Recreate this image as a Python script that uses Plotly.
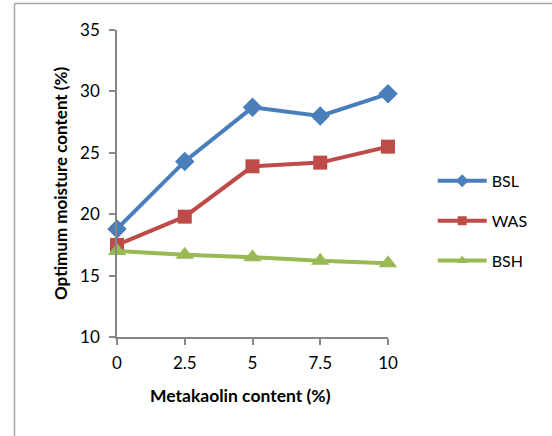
import plotly.graph_objects as go

# Metakaolin content (%) and optimum moisture content (%) for each soil
metakaolin = [0, 2.5, 5, 7.5, 10]
bsl = [18.8, 24.3, 28.7, 28.0, 29.8]
was = [17.5, 19.8, 23.9, 24.2, 25.5]
bsh = [17.0, 16.7, 16.5, 16.2, 16.0]

x_ticks = [0, 2.5, 5, 7.5, 10]
x_tick_text = ["0", "2.5", "5", "7.5", "10"]
y_ticks = [10, 15, 20, 25, 30, 35]

FONT = "Lato, Liberation Sans, sans-serif"
AXIS_GRAY = "#868686"

series = [
    ("BSL", bsl, "#4A7EBB", "diamond", 15, 10),
    ("WAS", was, "#BE4B48", "square", 14, 9),
    ("BSH", bsh, "#98B954", "triangle-up", 16, 10),
]

fig = go.Figure()
for name, values, color, symbol, size, legend_size in series:
    fig.add_trace(go.Scatter(
        x=metakaolin, y=values, name=name, legendgroup=name,
        mode="lines+markers", showlegend=False,
        line=dict(color=color, width=4),
        marker=dict(symbol=symbol, size=size, color=color),
        cliponaxis=False,
    ))
    # legend entry with a smaller marker glyph
    fig.add_trace(go.Scatter(
        x=[None], y=[None], name=name, legendgroup=name,
        mode="lines+markers", showlegend=True,
        line=dict(color=color, width=4),
        marker=dict(symbol=symbol, size=legend_size, color=color),
    ))

fig.update_layout(
    width=552, height=436,
    margin=dict(l=117, r=164, t=30, b=99),
    paper_bgcolor="white", plot_bgcolor="white",
    font=dict(family=FONT, size=17, color="#000000"),
    showlegend=True,
    legend=dict(
        x=1.165, xanchor="left", y=0.378, yanchor="middle",
        font=dict(family=FONT, size=16, color="#000000"),
        tracegroupgap=16, itemwidth=49, bgcolor="rgba(0,0,0,0)",
    ),
    xaxis=dict(
        range=[0, 10], tickvals=x_ticks, ticktext=x_tick_text,
        showgrid=False, zeroline=False, showline=True,
        linecolor=AXIS_GRAY, linewidth=1.5,
        ticks="outside", ticklen=6, tickcolor=AXIS_GRAY, tickwidth=1.5,
        tickfont=dict(family=FONT, size=17), ticklabelstandoff=4,
    ),
    yaxis=dict(
        range=[10, 35], tickvals=y_ticks,
        showgrid=False, zeroline=False, showline=True,
        linecolor=AXIS_GRAY, linewidth=1.5,
        ticks="outside", ticklen=6, tickcolor=AXIS_GRAY, tickwidth=1.5,
        tickfont=dict(family=FONT, size=17), ticklabelstandoff=6,
    ),
    annotations=[
        dict(text="<b>Metakaolin content (%)</b>", xref="paper", yref="paper",
             x=(240 - 117) / 271, y=-(395 - 337) / 307,
             xanchor="center", yanchor="middle", showarrow=False,
             font=dict(family=FONT, size=17.5)),
        dict(text="<b>Optimum moisture content (%)</b>", xref="paper", yref="paper",
             x=-(117 - 60) / 271, y=(337 - 184) / 307, textangle=-90,
             xanchor="center", yanchor="middle", showarrow=False,
             font=dict(family=FONT, size=17)),
    ],
    shapes=[
        # chart frame: top and left edges
        dict(type="line", xref="paper", yref="paper",
             x0=-(117 - 14.5) / 271, x1=(552 - 117) / 271,
             y0=(337 - 3.5) / 307, y1=(337 - 3.5) / 307,
             line=dict(color="#A6A6A6", width=1.5)),
        dict(type="line", xref="paper", yref="paper",
             x0=-(117 - 14.5) / 271, x1=-(117 - 14.5) / 271,
             y0=(337 - 3.5) / 307, y1=-(436 - 337) / 307,
             line=dict(color="#A6A6A6", width=1.5)),
    ],
)

fig.write_html("out.html")
